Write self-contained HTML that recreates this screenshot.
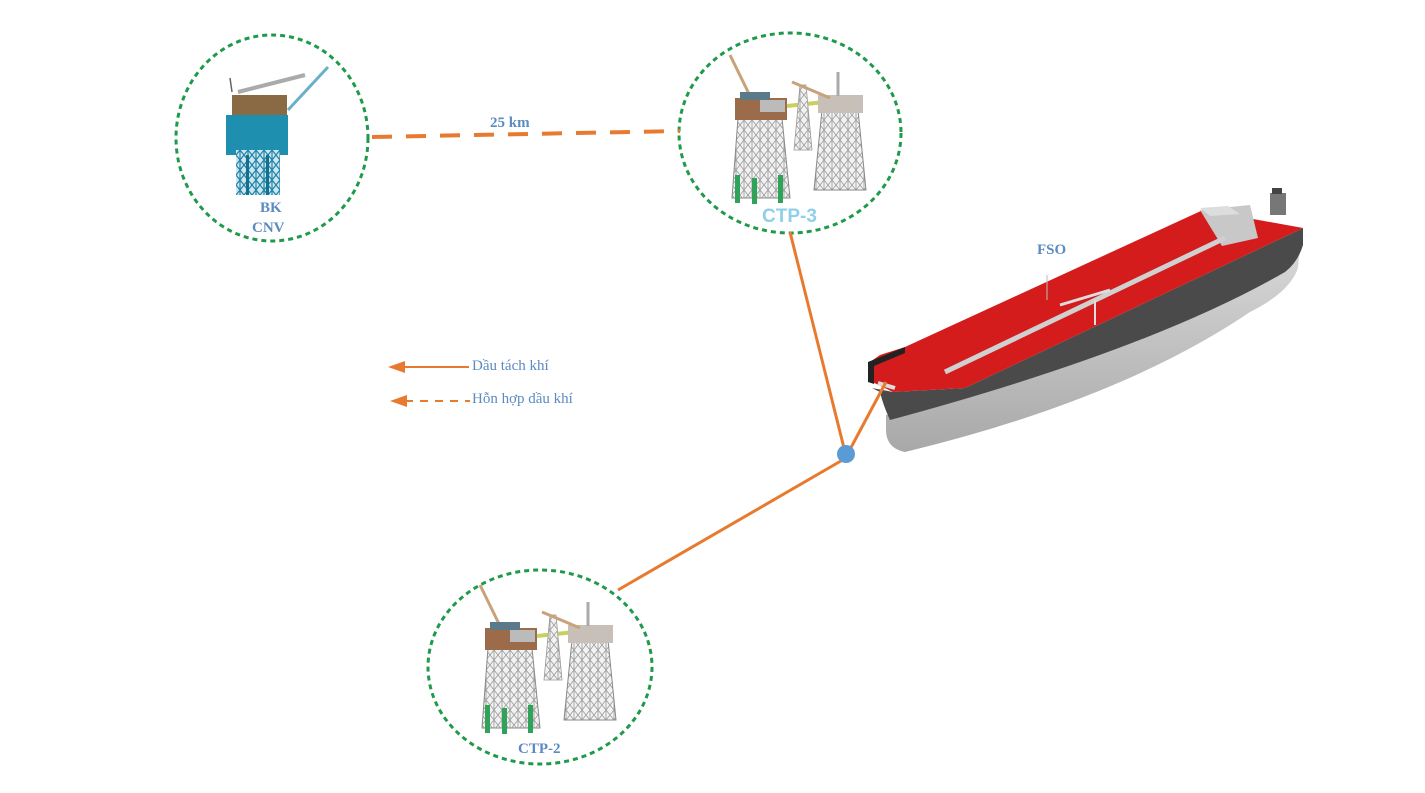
<!DOCTYPE html>
<html><head><meta charset="utf-8"><style>
html,body{margin:0;padding:0;background:#fff;}
svg{display:block;}
text{font-family:"Liberation Serif",serif;}
</style></head><body>
<svg width="1425" height="793" viewBox="0 0 1425 793" xmlns="http://www.w3.org/2000/svg">
<defs>
<pattern id="lat" width="8" height="10" patternUnits="userSpaceOnUse">
<rect width="8" height="10" fill="#f2f2f2"/>
<path d="M0 0L8 10M8 0L0 10M0 0V10M8 0V10" stroke="#9a9a9a" stroke-width="0.8"/>
</pattern>
<pattern id="latb" width="8" height="10" patternUnits="userSpaceOnUse">
<rect width="8" height="10" fill="#cfe6ee"/>
<path d="M0 0L8 10M8 0L0 10M0 0V10M8 0V10" stroke="#1f86a8" stroke-width="1.2"/>
</pattern>
<linearGradient id="gray" x1="0" y1="0" x2="0" y2="1">
<stop offset="0" stop-color="#d8d8d8"/><stop offset="1" stop-color="#a8a8a8"/>
</linearGradient>
<g id="plat">
<line x1="730" y1="55" x2="752" y2="100" stroke="#c9a27a" stroke-width="3"/>
<polygon points="738,118 782,118 790,198 732,198" fill="url(#lat)" stroke="#888" stroke-width="1"/>
<rect x="735" y="175" width="5" height="28" fill="#2fa35a"/>
<rect x="752" y="178" width="5" height="26" fill="#2fa35a"/>
<rect x="778" y="175" width="5" height="28" fill="#2fa35a"/>
<rect x="735" y="98" width="52" height="22" fill="#9c6b4a"/>
<rect x="740" y="92" width="30" height="8" fill="#5a7a8a"/>
<rect x="760" y="100" width="25" height="12" fill="#bbb"/>
<line x1="787" y1="106" x2="825" y2="102" stroke="#c8d060" stroke-width="4"/>
<polygon points="800,85 806,85 812,150 794,150" fill="url(#lat)" stroke="#999" stroke-width="0.8"/>
<polygon points="822,110 858,110 866,190 814,190" fill="url(#lat)" stroke="#888" stroke-width="1"/>
<rect x="818" y="95" width="45" height="18" fill="#c8c0b8"/>
<line x1="838" y1="72" x2="838" y2="96" stroke="#aaa" stroke-width="3"/>
<line x1="792" y1="82" x2="830" y2="98" stroke="#c9a27a" stroke-width="3"/>
</g>
</defs>

<ellipse cx="272" cy="138" rx="96" ry="103" fill="none" stroke="#1e9a4a" stroke-width="3" stroke-dasharray="5,4"/>
<ellipse cx="790" cy="133" rx="111" ry="100" fill="none" stroke="#1e9a4a" stroke-width="3" stroke-dasharray="5,4"/>
<ellipse cx="540" cy="667" rx="112" ry="97" fill="none" stroke="#1e9a4a" stroke-width="3" stroke-dasharray="5,4"/>

<line x1="230" y1="78" x2="232" y2="92" stroke="#666" stroke-width="1.5"/>
<line x1="238" y1="92" x2="305" y2="75" stroke="#aaa" stroke-width="4"/>
<line x1="288" y1="110" x2="328" y2="67" stroke="#6ab0c8" stroke-width="3"/>
<rect x="232" y="95" width="55" height="25" fill="#8a6a44"/>
<rect x="226" y="115" width="62" height="40" fill="#1f8fb0"/>
<rect x="236" y="150" width="44" height="45" fill="url(#latb)"/>
<rect x="246" y="155" width="3" height="40" fill="#157090"/>
<rect x="266" y="155" width="3" height="40" fill="#157090"/>

<use href="#plat"/>
<use href="#plat" transform="translate(-250,530)"/>

<line x1="372" y1="137" x2="680" y2="131" stroke="#e87a30" stroke-width="4" stroke-dasharray="20,14"/>
<polyline points="790,232 845,452" fill="none" stroke="#e87a30" stroke-width="3"/>
<polyline points="846,458 618,590" fill="none" stroke="#e87a30" stroke-width="3"/>

<!-- ship -->
<path d="M886,415 Q1150,350 1300,248 L1298,268 Q1290,292 1250,312 Q1120,400 905,452 Q886,448 886,430 Z" fill="url(#gray)"/>
<path d="M872,388 L893,392 L965,388 L1303,228 L1303,245 Q1298,262 1285,272 Q1150,350 890,420 Q883,405 880,392 Z" fill="#4a4a4a"/>
<polygon points="868,380 870,362 880,355 905,347 1203,210 1303,228 965,388 893,392" fill="#d41c1c"/>
<path d="M868,382 L868,362 L905,347 L905,353 L874,366 L874,384 Z" fill="#222"/>
<polygon points="1200,210 1250,205 1258,238 1222,246" fill="#c8c8c8"/>
<polygon points="1200,208 1228,206 1240,214 1210,216" fill="#ddd"/>
<rect x="1270" y="193" width="16" height="22" fill="#777"/>
<rect x="1272" y="188" width="10" height="6" fill="#444"/>
<line x1="945" y1="372" x2="1225" y2="238" stroke="#d0d0d0" stroke-width="5"/>
<line x1="1060" y1="305" x2="1110" y2="290" stroke="#ddd" stroke-width="3"/>
<line x1="1095" y1="300" x2="1095" y2="325" stroke="#ddd" stroke-width="2"/>
<line x1="1047" y1="275" x2="1047" y2="300" stroke="#bbb" stroke-width="1"/>
<line x1="878" y1="383" x2="895" y2="388" stroke="#ddd" stroke-width="4"/>
<polyline points="847,455 886,382" fill="none" stroke="#e87a30" stroke-width="3"/>
<circle cx="846" cy="454" r="9" fill="#5b9bd5"/>

<text x="490" y="127" font-size="15" font-weight="bold" fill="#5b8bc0">25 km</text>
<text x="260" y="212" font-size="15" font-weight="bold" fill="#5b8bc0">BK</text>
<text x="252" y="232" font-size="15" font-weight="bold" fill="#5b8bc0">CNV</text>
<text x="762" y="222" font-size="19" font-weight="bold" fill="#8fd0e8" style="font-family:'Liberation Sans',sans-serif">CTP-3</text>
<text x="518" y="753" font-size="15" font-weight="bold" fill="#5b8bc0">CTP-2</text>
<text x="1037" y="254" font-size="15" font-weight="bold" fill="#5b8bc0">FSO</text>

<line x1="400" y1="367" x2="469" y2="367" stroke="#e87a30" stroke-width="2"/>
<polygon points="388,367 405,361 405,373" fill="#e87a30"/>
<line x1="405" y1="401" x2="470" y2="401" stroke="#e87a30" stroke-width="2" stroke-dasharray="8,7"/>
<polygon points="390,401 407,395 407,407" fill="#e87a30"/>
<text x="472" y="370" font-size="15" fill="#5b8bc0">Dầu tách khí</text>
<text x="472" y="403" font-size="15" fill="#5b8bc0">Hỗn hợp dầu khí</text>
</svg>
</body></html>
